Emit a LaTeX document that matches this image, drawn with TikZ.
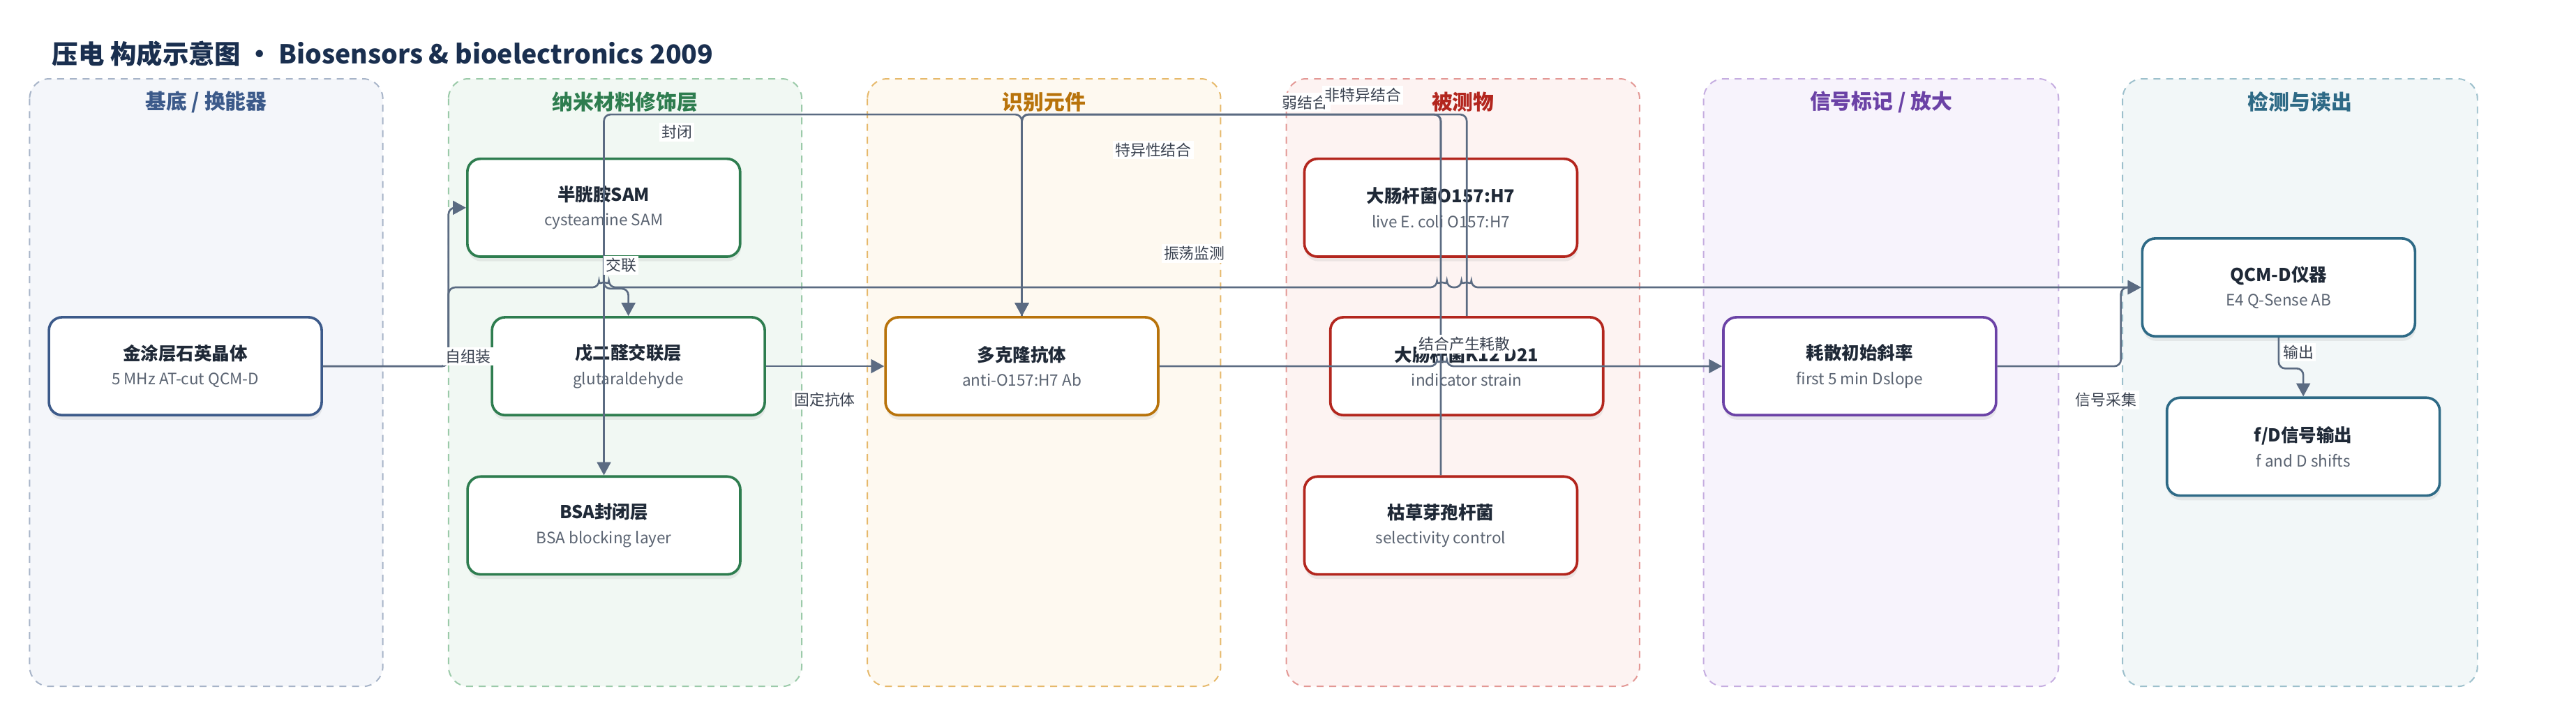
\documentclass[tikz,border=0pt]{standalone}
\usepackage{fontspec}
\setmainfont{Noto Sans CJK SC}
\usepackage{tikz}
\usetikzlibrary{shapes,arrows.meta,positioning,shadows,backgrounds}

\definecolor{titlec}{HTML}{1A2F4F}
\definecolor{edgec}{HTML}{5B6B82}
\definecolor{tagc}{HTML}{3A4250}
\definecolor{inkc}{HTML}{1F2937}
\definecolor{subc}{HTML}{5B6472}
\definecolor{basec}{HTML}{3C5A8A}
\definecolor{basef}{HTML}{F4F6FA}
\definecolor{based}{HTML}{A7B4C8}
\definecolor{nanoc}{HTML}{2E7D4F}
\definecolor{nanof}{HTML}{F1F8F3}
\definecolor{nanod}{HTML}{9BCAA9}
\definecolor{recogc}{HTML}{B8730B}
\definecolor{recogf}{HTML}{FEF9F0}
\definecolor{recogd}{HTML}{E6B96B}
\definecolor{targetc}{HTML}{B3261E}
\definecolor{targetf}{HTML}{FDF3F2}
\definecolor{targetd}{HTML}{E39895}
\definecolor{signalc}{HTML}{6B42A6}
\definecolor{signalf}{HTML}{F7F3FC}
\definecolor{signald}{HTML}{C5ADE0}
\definecolor{readc}{HTML}{2E6A86}
\definecolor{readf}{HTML}{F2F7F8}
\definecolor{readd}{HTML}{9DC0CC}

\tikzset{
 lane/.style = {rounded corners=0.3cm, line width=0.6pt,
           dash pattern=on 3pt off 2.5pt},
 lanetitle/.style = {inner sep=1pt, font=\bfseries\fontsize{9}{11}\selectfont},
 block/.style = {rectangle, draw, fill=white, rounded corners=0.2cm,
           line width=1.1pt, minimum width=4.15cm, minimum height=1.49cm,
           align=center, font=\fontsize{7.7}{10.7}\selectfont,
           drop shadow={shadow xshift=0.3pt, shadow yshift=-2pt, opacity=0.13}},
 flow/.style = {draw=edgec, line width=0.8pt, rounded corners=0.1cm,
           -{Triangle[length=0.2cm,width=0.21cm]}},
 tag/.style = {fill=white, inner sep=1pt, text=tagc,
           font=\fontsize{6.6}{8}\selectfont}
}
\newcommand{\nodetext}[2]{{\bfseries\color{inkc}#1}\\{\color{subc}\fontsize{6.8}{8}\selectfont #2}}

\begin{document}
\begin{tikzpicture}[x=0.025cm, y=-0.025cm]
  \useasboundingbox (0,0) rectangle (1568,428);

  % Title
  \node[anchor=west, inner sep=0pt, text=titlec,
    font=\bfseries\fontsize{11.3}{13}\selectfont] (title) at (31.5,32.6)
  {压电 构成示意图 • Biosensors \& bioelectronics 2009};

  % Lanes
  \draw[lane, draw=based, fill=basef] (18,48) rectangle (233,418);
  \draw[lane, draw=nanod, fill=nanof] (273,48) rectangle (488,418);
  \draw[lane, draw=recogd, fill=recogf] (528,48) rectangle (743,418);
  \draw[lane, draw=targetd, fill=targetf] (783,48) rectangle (998,418);
  \draw[lane, draw=signald, fill=signalf] (1037,48) rectangle (1253,418);
  \draw[lane, draw=readd, fill=readf] (1292,48) rectangle (1508,418);

  \node[lanetitle, text=basec] (lbase) at (125.5,62) {基底 / 换能器};
  \node[lanetitle, text=nanoc] (lnano) at (380.5,62) {纳米材料修饰层};
  \node[lanetitle, text=recogc] (lrecog) at (635.5,62) {识别元件};
  \node[lanetitle, text=targetc] (ltarget) at (890.5,62) {被测物};
  \node[lanetitle, text=signalc] (lsignal) at (1145,62) {信号标记 / 放大};
  \node[lanetitle, text=readc] (lread) at (1400,62) {检测与读出};

  % Nodes
  \node[block, draw=basec] (crystal) at (112.8,223)
  {\nodetext{金涂层石英晶体}{5 MHz AT-cut QCM-D}};
  \node[block, draw=nanoc] (sam) at (367.5,126.5)
  {\nodetext{半胱胺SAM}{cysteamine SAM}};
  \node[block, draw=nanoc] (glut) at (382.5,223)
  {\nodetext{戊二醛交联层}{glutaraldehyde}};
  \node[block, draw=nanoc] (bsa) at (367.6,320)
  {\nodetext{BSA封闭层}{BSA blocking layer}};
  \node[block, draw=recogc] (ab) at (622,223)
  {\nodetext{多克隆抗体}{anti-O157:H7 Ab}};
  \node[block, draw=targetc] (o157) at (877,126.5)
  {\nodetext{大肠杆菌O157:H7}{live E. coli O157:H7}};
  \node[block, draw=targetc] (k12) at (892.8,223)
  {\nodetext{大肠杆菌K12 D21}{indicator strain}};
  \node[block, draw=targetc] (subtilis) at (877,320)
  {\nodetext{枯草芽孢杆菌}{selectivity control}};
  \node[block, draw=signalc] (slope) at (1132,223)
  {\nodetext{耗散初始斜率}{first 5 min Dslope}};
  \node[block, draw=readc] (qcmd) at (1387,175)
  {\nodetext{QCM-D仪器}{E4 Q-Sense AB}};
  \node[block, draw=readc] (fd) at (1402,272)
  {\nodetext{f/D信号输出}{f and D shifts}};

  % Edges
  \coordinate (top) at (0,69.7);
  \draw[flow] (crystal.east) -- (273,223) |- (sam.west);
  \draw[flow] (crystal.east) -- (273,223) |- (364.6,175)
    arc[start angle=180, end angle=0, radius=0.075cm] -- (874.7,175)
    arc[start angle=180, end angle=0, radius=0.075cm] -- (889.6,175)
    arc[start angle=180, end angle=0, radius=0.075cm] -- (qcmd.west);
  \draw[flow] (sam.south) -- ++(0,18.7) -| (glut.north);
  \draw[flow] (glut.east) -- (ab.west);
  \draw[flow] (ab.north) |- (top -| bsa.north) -- (bsa.north);
  \draw[flow] (o157.north) |- (top -| ab.north) -- (ab.north);
  \draw[flow] (subtilis.north) |- (top -| ab.north) -- (ab.north);
  \draw[flow] (k12.north) |- (top -| ab.north) -- (ab.north);
  \draw[flow] (ab.east) -- (874.7,223)
    arc[start angle=180, end angle=0, radius=0.075cm] -- (slope.west);
  \draw[flow] (slope.east) -- (1291,223) |- (qcmd.west);
  \draw[flow] (qcmd.south) -- ++(0,18.8) -| (fd.north);

  % Edge labels
  \node[tag] (tself) at (285,217) {自组装};
  \node[tag] (tcross) at (378,161.5) {交联};
  \node[tag] (tblock) at (412,80.4) {封闭};
  \node[tag] (tfix) at (502,243.5) {固定抗体};
  \node[tag] (tspec) at (702,91.3) {特异性结合};
  \node[tag] (tosc) at (727,154.3) {振荡监测};
  \node[tag] (tweak) at (794.4,62.3) {弱结合};
  \node[tag] (tnonspec) at (829.6,58) {非特异结合};
  \node[tag] (tdiss) at (891.5,209.5) {结合产生耗散};
  \node[tag] (tacq) at (1282,243.4) {信号采集};
  \node[tag] (tout) at (1399,214.5) {输出};
\end{tikzpicture}
\end{document}
